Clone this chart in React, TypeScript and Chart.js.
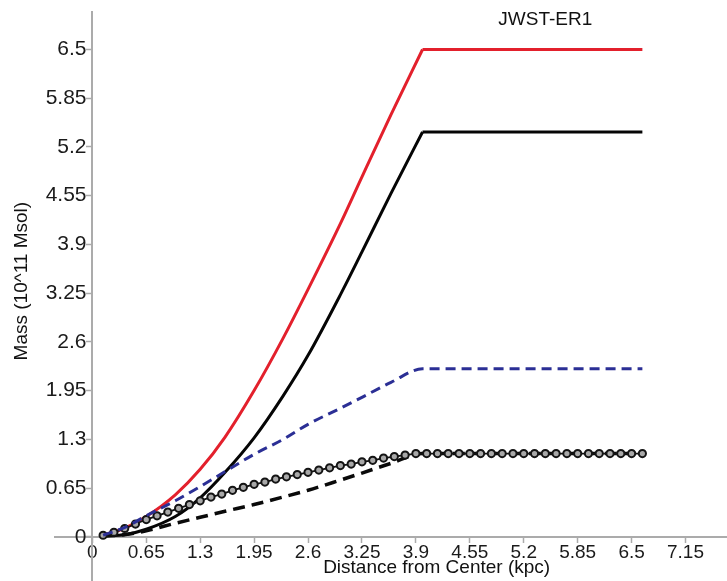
import { useEffect, useRef } from "react";
import { Chart, registerables } from "chart.js";

Chart.register(...registerables);

const chartTitle = "JWST-ER1";
const xAxisTitle = "Distance from Center (kpc)";
const yAxisTitle = "Mass (10^11 Msol)";
const tickStep = 0.65;

// radii (kpc) where the rising parts of the curves were read
const risingRadii = [0.13, 0.4, 0.65, 1.0, 1.3, 1.6, 1.95, 2.3, 2.6, 3.0, 3.25, 3.6, 3.98];
const plateauRadii = [3.98, 6.63];
const redRise = [0.02, 0.12, 0.27, 0.56, 0.9, 1.33, 1.95, 2.65, 3.3, 4.2, 4.8, 5.63, 6.5];
const redPlateau = [6.5, 6.5];
const blackRise = [0.01, 0.03, 0.1, 0.27, 0.52, 0.86, 1.32, 1.88, 2.42, 3.25, 3.8, 4.58, 5.4];
const blackPlateau = [5.4, 5.4];

// dashed curves (rise + plateau together)
const dashedRadii = [0.13, 0.4, 0.65, 1.0, 1.3, 1.6, 1.95, 2.3, 2.6, 3.0, 3.25, 3.6, 3.98, 6.63];
const blueMass = [0.02, 0.13, 0.28, 0.48, 0.67, 0.87, 1.1, 1.3, 1.5, 1.72, 1.86, 2.06, 2.24, 2.24];
const blackDashedMass = [0.01, 0.03, 0.08, 0.18, 0.26, 0.34, 0.43, 0.53, 0.62, 0.76, 0.85, 0.98, 1.11, 1.11];

// marker series
const markerRadii = [
  0.13, 0.26, 0.39, 0.52, 0.65, 0.78, 0.91, 1.04, 1.17, 1.3,
  1.43, 1.56, 1.69, 1.82, 1.95, 2.08, 2.21, 2.34, 2.47, 2.6,
  2.73, 2.86, 2.99, 3.12, 3.25, 3.38, 3.51, 3.64, 3.77, 3.9,
  4.03, 4.16, 4.29, 4.42, 4.55, 4.68, 4.81, 4.94, 5.07, 5.2,
  5.33, 5.46, 5.59, 5.72, 5.85, 5.98, 6.11, 6.24, 6.37, 6.5, 6.63,
];
const markerMass = [
  0.02, 0.06, 0.11, 0.17, 0.23, 0.28, 0.33, 0.38, 0.43, 0.48,
  0.53, 0.57, 0.62, 0.66, 0.7, 0.73, 0.77, 0.8, 0.83, 0.86,
  0.89, 0.92, 0.95, 0.97, 1.0, 1.02, 1.05, 1.07, 1.09, 1.11,
  1.11, 1.11, 1.11, 1.11, 1.11, 1.11, 1.11, 1.11, 1.11, 1.11,
  1.11, 1.11, 1.11, 1.11, 1.11, 1.11, 1.11, 1.11, 1.11, 1.11, 1.11,
];

const FONT = '"Liberation Sans", Arial, Helvetica, sans-serif';
const AXIS_GRAY = "#ababab";
const RED = "#e3202c";
const BLACK = "#050505";

const pts = (xs: number[], ys: number[]) => xs.map((x, i) => ({ x, y: ys[i] }));

const keepStepTicks = (scale: any) => {
  scale.ticks = scale.ticks.filter((t: any) => {
    const k = t.value / tickStep;
    return t.value >= -1e-9 && Math.abs(k - Math.round(k)) < 1e-6;
  });
};
const noEdgePadding = (scale: any) => {
  scale.paddingTop = 0;
  scale.paddingBottom = 0;
  scale.paddingLeft = 0;
  scale.paddingRight = 0;
};
const fmt = (v: number) => String(Math.round(v * 100) / 100);

const textPlugin = {
  id: "textPlugin",
  afterDraw(chart: any) {
    const { ctx, scales, chartArea } = chart;
    const xs = scales.x;
    const ys = scales.y;
    ctx.save();
    ctx.fillStyle = "#111";
    ctx.font = `19px ${FONT}`;
    ctx.textAlign = "center";
    ctx.textBaseline = "middle";
    ctx.fillText(chartTitle, xs.getPixelForValue(5.46), chartArea.top + 8);
    ctx.fillText(xAxisTitle, xs.getPixelForValue(4.15), chartArea.bottom - 13);
    ctx.translate(22, ys.getPixelForValue(3.41));
    ctx.rotate(-Math.PI / 2);
    ctx.fillText(yAxisTitle, 0, 0);
    ctx.restore();
  },
};

const solid = (data: any[], color: string, order: number) => ({
  data,
  borderColor: color,
  borderWidth: 3,
  pointRadius: 0,
  cubicInterpolationMode: "monotone" as const,
  order,
});

export default function App() {
  const ref = useRef<HTMLCanvasElement | null>(null);
  useEffect(() => {
    if (!ref.current) return;
    const chart = new Chart(ref.current, {
      type: "line",
      data: {
        datasets: [
          {
            label: "markers",
            data: pts(markerRadii, markerMass),
            borderColor: "#111",
            borderWidth: 1.8,
            pointRadius: 3.6,
            pointBorderWidth: 2,
            pointBorderColor: "#141414",
            pointBackgroundColor: "#a8a8a8",
            tension: 0,
            order: 1,
          },
          {
            label: "black dashed",
            data: pts(dashedRadii, blackDashedMass),
            borderColor: "#0a0a0a",
            borderWidth: 3.5,
            borderDash: [12, 7],
            pointRadius: 0,
            cubicInterpolationMode: "monotone",
            order: 2,
          },
          {
            label: "blue dashed",
            data: pts(dashedRadii, blueMass),
            borderColor: "#2b2f95",
            borderWidth: 3,
            borderDash: [10, 6],
            pointRadius: 0,
            cubicInterpolationMode: "monotone",
            order: 0,
          },
          { label: "black rise", ...solid(pts(risingRadii, blackRise), BLACK, 3) },
          { label: "black plateau", ...solid(pts(plateauRadii, blackPlateau), BLACK, 3) },
          { label: "red rise", ...solid(pts(risingRadii, redRise), RED, 4) },
          { label: "red plateau", ...solid(pts(plateauRadii, redPlateau), RED, 4) },
        ],
      },
      options: {
        animation: false,
        responsive: true,
        maintainAspectRatio: false,
        devicePixelRatio: 1,
        layout: { autoPadding: false, padding: { left: 55, right: 0, top: 12, bottom: 0 } },
        plugins: {
          legend: { display: false },
          title: { display: false },
          tooltip: { enabled: false },
        },
        scales: {
          x: {
            type: "linear",
            position: { y: 0 } as any,
            min: -0.45,
            max: 7.65,
            afterBuildTicks: keepStepTicks,
            afterFit: noEdgePadding,
            ticks: {
              stepSize: tickStep,
              includeBounds: false,
              callback: (v: any) => fmt(Number(v)),
              color: "#1a1a1a",
              font: { family: FONT, size: 19 },
              padding: 0,
              maxRotation: 0,
              autoSkip: false,
            },
            grid: {
              drawOnChartArea: false,
              drawTicks: true,
              tickLength: 5,
              tickColor: AXIS_GRAY,
              tickWidth: 1.5,
            },
            border: { color: AXIS_GRAY, width: 2 },
          },
          y: {
            type: "linear",
            position: { x: 0 } as any,
            min: -0.59,
            max: 7.0,
            afterBuildTicks: keepStepTicks,
            afterFit: noEdgePadding,
            ticks: {
              stepSize: tickStep,
              includeBounds: false,
              callback: (v: any) => fmt(Number(v)) + "\u00a0",
              color: "#1a1a1a",
              font: { family: FONT, size: 21 },
              padding: 2,
              autoSkip: false,
            },
            grid: {
              drawOnChartArea: false,
              drawTicks: true,
              tickLength: 5,
              tickColor: AXIS_GRAY,
              tickWidth: 1.5,
            },
            border: { color: AXIS_GRAY, width: 2 },
          },
        },
      },
      plugins: [textPlugin],
    });
    return () => chart.destroy();
  }, []);
  return (
    <div style={{ position: "fixed", left: 0, top: 0, width: 727, height: 581, background: "#fff" }}>
      <canvas ref={ref} />
    </div>
  );
}
